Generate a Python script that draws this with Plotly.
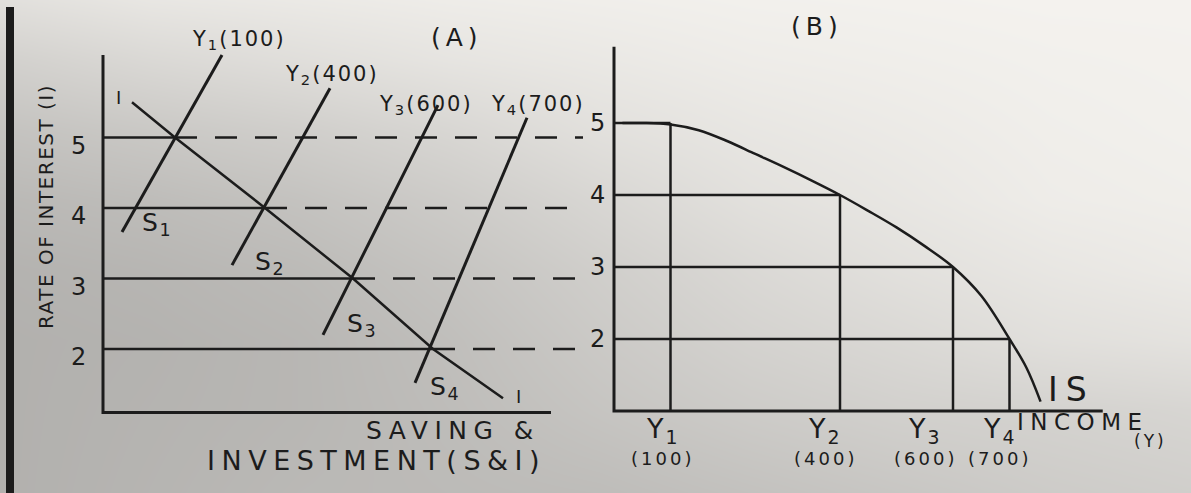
import plotly.graph_objects as go

W, H = 1191, 493

# ---------------- data ----------------
rates = [5, 4, 3, 2]                      # rate of interest levels (i)
income = [100, 400, 600, 700]             # income levels Y1..Y4
income_tags = ["1", "2", "3", "4"]
rate_tick_text = ["5", "4", "3", "2"]

# Panel A: saving & investment (S&I units)
equilibrium_si = [7.2, 16.2, 25.0, 33.0]          # S = I at each rate
investment_si = [2.9, 7.2, 16.2, 25.0, 33.0, 40.0]
investment_rate = [5.5, 5.0, 4.0, 3.0, 2.0, 1.3]
saving_si_start = [1.9, 12.9, 22.0, 31.2]
saving_rate_start = [3.66, 3.19, 2.20, 1.52]
saving_si_end = [11.9, 22.7, 33.5, 42.4]
saving_rate_end = [6.17, 5.70, 5.46, 5.28]

# Panel B: IS curve
is_income = [15, 50, 100, 150, 200, 250, 300, 350, 400, 450, 500, 550, 600, 650, 700, 730, 755]
is_rate = [5.0, 5.0, 4.98, 4.9, 4.75, 4.57, 4.39, 4.2, 4.0, 3.78, 3.55, 3.29, 3.0, 2.6, 2.0, 1.6, 1.13]

# paper shading (brightness on a coarse grid, px)
shade_x = [0, 150, 300, 450, 600, 750, 900, 1050, 1191]
shade_y = [0, 60, 130, 200, 270, 340, 410, 493]
shade_z = [
    [225, 232, 235, 238, 240, 242, 243, 244, 244],
    [210, 218, 224, 230, 234, 238, 240, 242, 243],
    [196, 202, 208, 216, 226, 232, 236, 240, 242],
    [186, 190, 196, 205, 216, 226, 232, 238, 240],
    [180, 183, 188, 197, 208, 218, 226, 232, 236],
    [178, 180, 184, 192, 203, 212, 218, 225, 228],
    [178, 181, 184, 190, 198, 205, 210, 212, 215],
    [178, 182, 186, 188, 190, 195, 200, 205, 208],
]

# ---------------- geometry (pixel anchors of each panel) ----------------
# panel A: S&I unit = 10 px, origin at x=103 px; 70.5 px per rate point, i=3.5 at y=243.25 px
A_X0, A_XS, A_YC, A_YS = 103.0, 10.0, 243.25, 70.5
# panel B: 0.565 px per income unit, origin at x=614 px; 72 px per rate point, i=3.5 at y=231 px
B_X0, B_XS, B_YC, B_YS = 614.0, 0.565, 231.0, 72.0
SPLIT = 600.0

A_floor, A_top, A_right, A_dash_end = 1.1, 6.17, 44.8, 48.0
B_floor, B_top, B_right = 1.0, 6.06, 865

INK = "rgb(28,28,28)"
TXT = "rgb(28,28,28)"
FONT = "DejaVu Sans, Liberation Sans, Arial, sans-serif"


def spaced(text, px):
    return f'<span style="letter-spacing:{px}px">{text}</span>'


def path(xs_list, ys_list):
    xs, ys = [], []
    for a, b in zip(xs_list, ys_list):
        xs += list(a) + [None]
        ys += list(b) + [None]
    return xs, ys


fig = go.Figure()

# paper background
fig.add_trace(go.Heatmap(
    x=shade_x, y=shade_y, z=shade_z, zsmooth="best", zmin=0, zmax=255,
    colorscale=[[0, "rgb(0,0,0)"], [1, "rgb(255,253,249)"]],
    showscale=False, hoverinfo="skip", xaxis="x", yaxis="y"))

line_kw = dict(mode="lines", hoverinfo="skip", showlegend=False)

# ---------- panel A ----------
fig.add_trace(go.Scatter(x=[0, 0, A_right], y=[A_top, A_floor, A_floor],
                         line=dict(color=INK, width=3), xaxis="x2", yaxis="y2", **line_kw))
sx, sy = path([[0, e] for e in equilibrium_si], [[r, r] for r in rates])
fig.add_trace(go.Scatter(x=sx, y=sy, line=dict(color=INK, width=2.5), xaxis="x2", yaxis="y2", **line_kw))
dx, dy = path([[e, A_dash_end] for e in equilibrium_si], [[r, r] for r in rates])
fig.add_trace(go.Scatter(x=dx, y=dy, line=dict(color=INK, width=2.5, dash="22px,18px"),
                         xaxis="x2", yaxis="y2", **line_kw))
fig.add_trace(go.Scatter(x=investment_si, y=investment_rate,
                         line=dict(color=INK, width=2.5), xaxis="x2", yaxis="y2", **line_kw))
svx, svy = path([[a, b] for a, b in zip(saving_si_start, saving_si_end)],
                [[a, b] for a, b in zip(saving_rate_start, saving_rate_end)])
fig.add_trace(go.Scatter(x=svx, y=svy, line=dict(color=INK, width=3), xaxis="x2", yaxis="y2", **line_kw))

# ---------- panel B ----------
fig.add_trace(go.Scatter(x=[0, 0, B_right], y=[B_top, B_floor, B_floor],
                         line=dict(color=INK, width=3), xaxis="x3", yaxis="y3", **line_kw))
hx, hy = path([[0, v] for v in income], [[r, r] for r in rates])
fig.add_trace(go.Scatter(x=hx, y=hy, line=dict(color=INK, width=2.5), xaxis="x3", yaxis="y3", **line_kw))
vx, vy = path([[v, v] for v in income], [[B_floor, r] for r in rates])
fig.add_trace(go.Scatter(x=vx, y=vy, line=dict(color=INK, width=2.5), xaxis="x3", yaxis="y3", **line_kw))
fig.add_trace(go.Scatter(x=is_income, y=is_rate, line=dict(color=INK, width=2.5, shape="spline", smoothing=1.0),
                         xaxis="x3", yaxis="y3", **line_kw))

ann = []


def note(text, x, y, size, xref, yref, gap=0, xanchor="center", yanchor="middle", angle=0, xshift=0, yshift=0):
    ann.append(dict(text=spaced(text, gap) if gap else text, x=x, y=y, xref=xref, yref=yref,
                    xanchor=xanchor, yanchor=yanchor, textangle=angle, showarrow=False,
                    xshift=xshift, yshift=yshift, font=dict(family=FONT, size=size, color=TXT)))


# panel A labels
for r, t in zip(rates, rate_tick_text):
    note(t, -2.5, r, 24, "x2", "y2", yshift=-8)
note("RATE OF INTEREST (I)", 46 / W, 1 - 207 / H, 20, "paper", "paper", gap=1.5, angle=-90)
note("(A)", 457 / W, 1 - 37 / H, 25, "paper", "paper", gap=5)
note("(B)", 817 / W, 1 - 27 / H, 25, "paper", "paper", gap=5)
note("I", 1.5, 5.57, 18, "x2", "y2")
note("I", 41.5, 1.32, 18, "x2", "y2")
s_label_pos = [(5.4, 3.77), (16.7, 3.22), (25.9, 2.34), (34.2, 1.45)]
for tag, (lx, ly) in zip(income_tags, s_label_pos):
    note(f"S<sub>{tag}</sub>", lx, ly, 25, "x2", "y2", gap=1.5)
y_label_pos = [(8.7, 6.38), (18.0, 5.89), (27.4, 5.46), (38.6, 5.46)]
for tag, v, (lx, ly) in zip(income_tags, income, y_label_pos):
    note(f"Y<sub>{tag}</sub>({v})", lx, ly, 21, "x2", "y2", gap=2, xanchor="left")
note("SAVING &amp;", 542 / W, 1 - 430 / H, 25, "paper", "paper", gap=6.5, xanchor="right")
note("INVESTMENT(S&amp;I)", 548 / W, 1 - 460 / H, 27, "paper", "paper", gap=6.5, xanchor="right")

# panel B labels
for r, t in zip(rates, rate_tick_text):
    note(t, -12, r, 24, "x3", "y3", xanchor="right")
note("(i)", -40.7, 5.81, 19, "x3", "y3")
label_shift = [-8, -15, -28, -10]
for tag, v, sh in zip(income_tags, income, label_shift):
    note(f"Y<sub>{tag}</sub>", v, 0.736, 27, "x3", "y3", gap=2, xshift=sh)
    note(f"({v})", v, 0.347, 18, "x3", "y3", gap=3, xshift=sh)
note("IS", 810.6, 1.292, 33, "x3", "y3", gap=8)
note("INCOME", 710, 0.847, 23, "x3", "y3", gap=6.5, xanchor="left")
note("(Y)", 948.7, 0.583, 17, "x3", "y3", gap=3)

# left binding edge
shapes = [dict(type="rect", xref="paper", yref="paper", x0=6 / W, x1=14 / W, y0=0, y1=1 - 7 / H,
               line=dict(width=0), fillcolor="rgb(28,28,28)", layer="above")]

hidden = dict(visible=False, fixedrange=True)
fig.update_layout(
    width=W, height=H, margin=dict(l=0, r=0, t=0, b=0),
    paper_bgcolor="rgb(205,203,200)", plot_bgcolor="rgba(0,0,0,0)",
    showlegend=False,
    xaxis=dict(domain=[0, 1], range=[0, W], **hidden),
    yaxis=dict(domain=[0, 1], range=[H, 0], **hidden),
    xaxis2=dict(domain=[0, SPLIT / W], range=[(0 - A_X0) / A_XS, (SPLIT - A_X0) / A_XS],
                anchor="y2", **hidden),
    yaxis2=dict(domain=[0, 1], range=[3.5 - (H - A_YC) / A_YS, 3.5 + A_YC / A_YS], anchor="x2", **hidden),
    xaxis3=dict(domain=[SPLIT / W, 1], range=[(SPLIT - B_X0) / B_XS, (W - B_X0) / B_XS],
                anchor="y3", **hidden),
    yaxis3=dict(domain=[0, 1], range=[3.5 - (H - B_YC) / B_YS, 3.5 + B_YC / B_YS], anchor="x3", **hidden),
    annotations=ann, shapes=shapes,
)

fig.write_html("out.html")
